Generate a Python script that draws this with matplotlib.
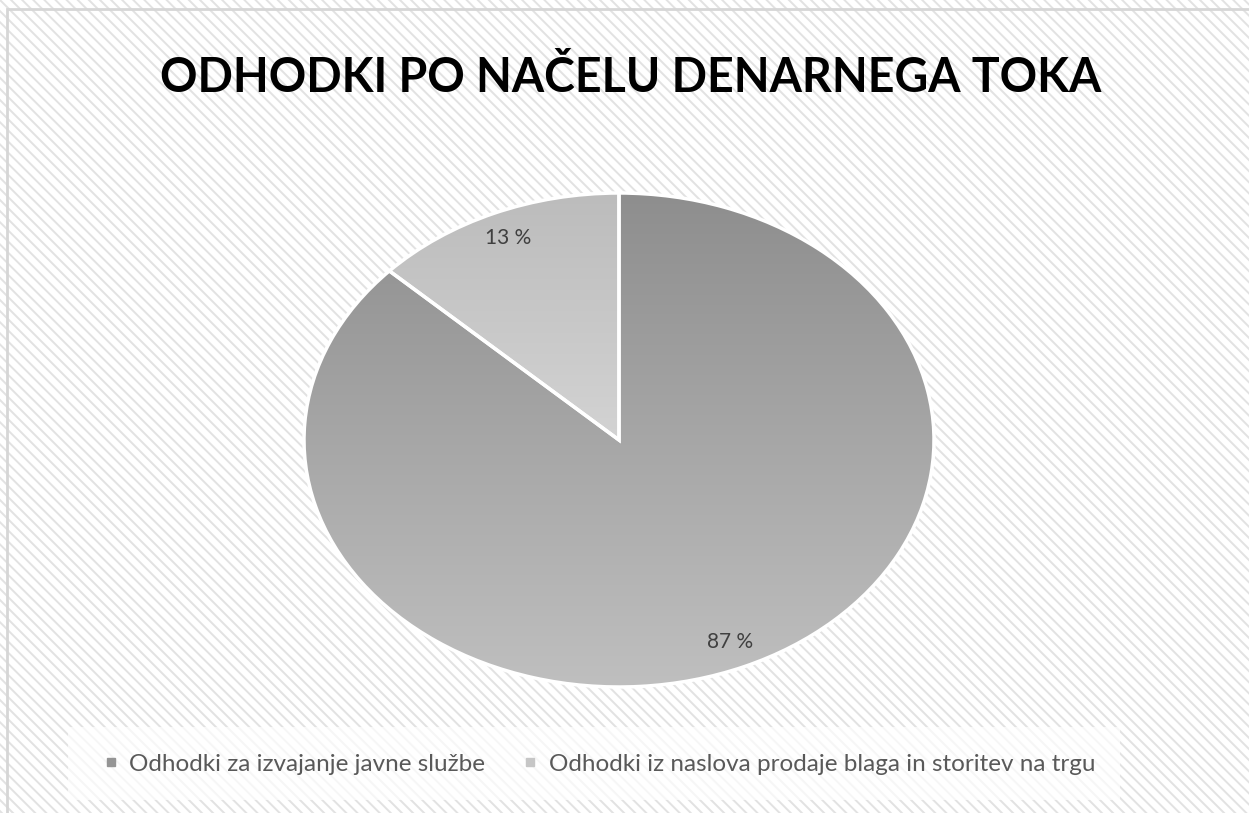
import numpy as np
import matplotlib
matplotlib.use('Agg')
import matplotlib.pyplot as plt
from matplotlib.patches import Rectangle
from matplotlib.lines import Line2D
from matplotlib.colors import LinearSegmentedColormap

# Data
categories = ['Odhodki za izvajanje javne službe',
              'Odhodki iz naslova prodaje blaga in storitev na trgu']
shares = [87, 13]
title = 'ODHODKI PO NAČELU DENARNEGA TOKA'

# Gradient colours per slice (top, bottom)
slice_grad = [('#8e8e8e', '#bfbfbf'), ('#bcbcbc', '#d3d3d3')]
legend_colors = ['#959595', '#c6c6c6']

plt.rcParams['font.family'] = ['Lato', 'DejaVu Sans']
plt.rcParams['hatch.linewidth'] = 1.4

W, H = 1249, 813
fig = plt.figure(figsize=(W / 100, H / 100), dpi=100)
fig.patch.set_facecolor('white')

# Diagonal hatched background
bg = Rectangle((0, 0), 1, 1, transform=fig.transFigure, facecolor='white',
               edgecolor='#e2e2e2', hatch='\\\\\\', linewidth=0, zorder=-10)
fig.patches.append(bg)

# Chart frame
frame = Rectangle((7 / W, -0.05), 1.05, 1 - 9 / H + 0.05, transform=fig.transFigure,
                  facecolor='none', edgecolor='#d6d6d6', linewidth=2, zorder=-9)
fig.patches.append(frame)

# Legend box
lbox = Rectangle((68 / W, 1 - 800 / H), (1120 - 68) / W, 73 / H,
                 transform=fig.transFigure, facecolor='white', alpha=0.7,
                 edgecolor='none', zorder=-8)
fig.patches.append(lbox)

fig.text(631 / W, 1 - 78 / H, title, ha='center', va='center',
         fontsize=33.5, fontweight='bold', color='black')

# Pie (stretched into an ellipse)
ax = fig.add_axes([304 / W, 1 - 687 / H, 630 / W, 494 / H])
wedges, texts, autotexts = ax.pie(
    shares, startangle=90, counterclock=False, radius=1,
    autopct=lambda p: f'{p:.0f} %', pctdistance=0.89,
    wedgeprops=dict(edgecolor='white', linewidth=2.5, facecolor='none'),
    textprops=dict(fontsize=15, color='#404040'))

for w, (c_top, c_bot) in zip(wedges, slice_grad):
    ext = w.get_path().get_extents()
    cmap = LinearSegmentedColormap.from_list('g', [c_top, c_bot])
    grad = np.linspace(0, 1, 256).reshape(-1, 1)
    im = ax.imshow(grad, cmap=cmap, aspect='auto', origin='upper',
                   extent=(ext.x0, ext.x1, ext.y0, ext.y1), zorder=0.5)
    im.set_clip_path(w)
    w.set_zorder(1)

for t in autotexts:
    t.set_zorder(3)

ax.set_aspect('auto')
ax.set_xlim(-1, 1)
ax.set_ylim(-1, 1)
ax.axis('off')

# Legend
handles = [Line2D([], [], linestyle='none', marker='s', markersize=6,
                  markerfacecolor=c, markeredgecolor=c) for c in legend_colors]
fig.legend(handles, categories, loc='center', ncol=2,
           bbox_to_anchor=(600 / W, 1 - 764 / H), frameon=False,
           fontsize=17.5, labelcolor='#595959', handlelength=0.5,
           handletextpad=0.5, columnspacing=1.6)

fig.savefig('out.png', dpi=100)
